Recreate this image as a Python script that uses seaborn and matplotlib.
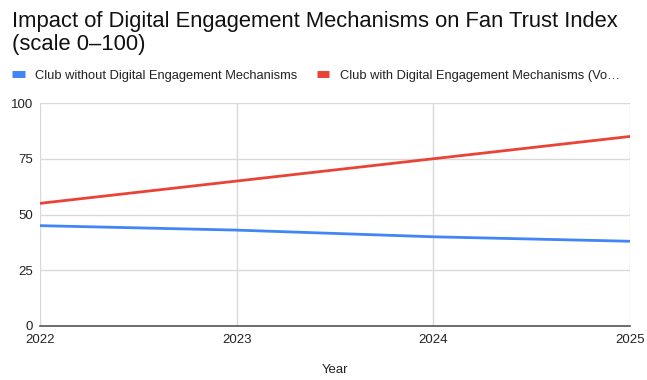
import matplotlib
matplotlib.use("Agg")
import matplotlib.pyplot as plt
import seaborn as sns
import pandas as pd
from matplotlib.lines import Line2D

years = [2022, 2023, 2024, 2025]
without_digital = [45, 43, 40, 38]
with_digital = [55, 65, 75, 85]
series_names = ["Club without Digital Engagement Mechanisms",
                "Club with Digital Engagement Mechanisms (Vo…"]
colors = ["#4285F4", "#EA4335"]
y_ticks = [0, 25, 50, 75, 100]

df = pd.DataFrame({
    "Year": years * 2,
    "Value": without_digital + with_digital,
    "Series": [series_names[0]] * 4 + [series_names[1]] * 4,
})

sns.set_theme(style="white")
plt.rcParams['font.family'] = ['Liberation Sans', 'DejaVu Sans']

fig = plt.figure(figsize=(6.47, 3.8), dpi=100)
ax = fig.add_axes([40/647, 1-326/380, (630-40)/647, (326-103)/380])

sns.lineplot(data=df, x="Year", y="Value", hue="Series", palette=colors,
             linewidth=2, ax=ax, legend=False)

ax.set_xlim(2022, 2025)
ax.set_ylim(0, 100)
ax.set_xticks(years)
ax.set_xticklabels([str(y) for y in years])
ax.set_yticks(y_ticks)
ax.grid(True, color="#d9d9d9", linewidth=1)
ax.set_axisbelow(True)
for s in ["top", "right", "left"]:
    ax.spines[s].set_visible(False)
ax.spines["bottom"].set_color("#555555")
ax.spines["bottom"].set_linewidth(1.2)
ax.tick_params(axis="x", length=0, labelsize=9.5, colors="#222222", pad=6)
ax.tick_params(axis="y", length=0, labelsize=9.5, colors="#222222", pad=5)
ax.set_xlabel("Year", fontsize=9.5, color="#222222", labelpad=13)
ax.set_ylabel("")

fig.text(12/647, 1-33/380, "Impact of Digital Engagement Mechanisms on Fan Trust Index\n(scale 0–100)",
         fontsize=15.8, color="#111111", va="center", ha="left", linespacing=1.1)

handles = [Line2D([0], [0], color=c, linewidth=5, solid_capstyle="butt") for c in colors]
fig.legend(handles, series_names, loc="center left", bbox_to_anchor=(0, 1-76/380),
           ncol=2, frameon=False, fontsize=9.3, handlelength=1.0, handletextpad=0.8,
           columnspacing=1.5, labelcolor="#222222")

fig.savefig("out.png", dpi=100)
